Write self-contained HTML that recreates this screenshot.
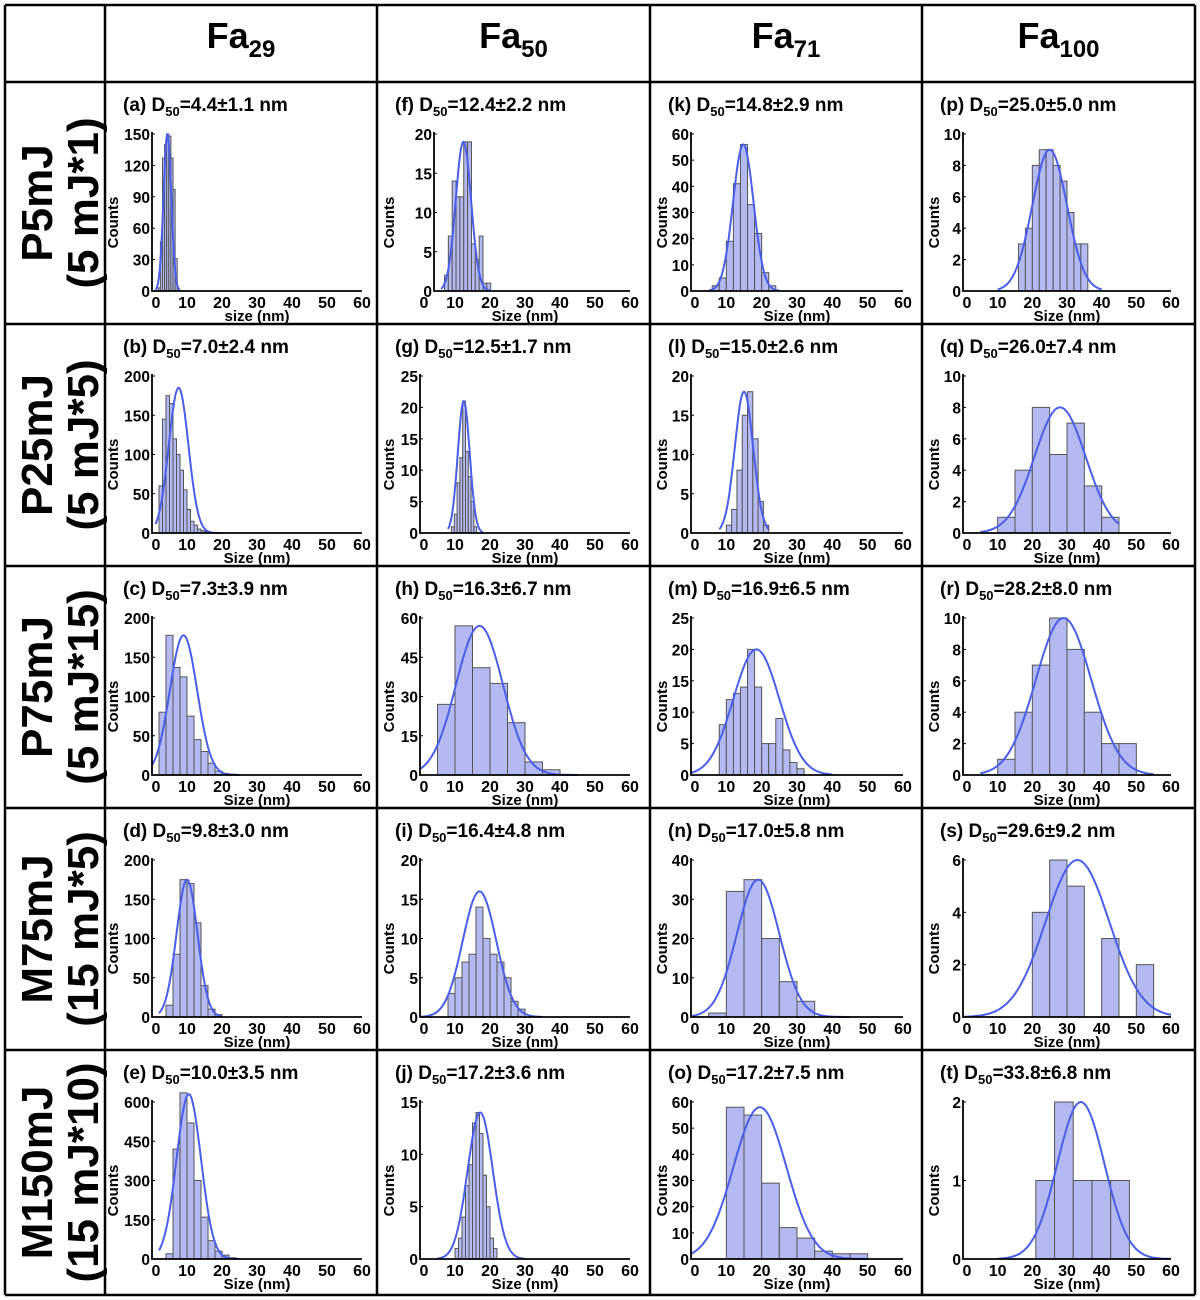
<!DOCTYPE html>
<html><head><meta charset="utf-8"><style>
html,body{margin:0;padding:0;background:#fff;}
svg{display:block;font-family:"Liberation Sans",Arial,sans-serif;font-weight:bold;}
</style></head><body>
<svg id="fig" width="1200" height="1300" viewBox="0 0 1200 1300" xmlns="http://www.w3.org/2000/svg"></svg>
<script>
// ---- Data ----
const colHeads = ["29","50","71","100"];
const rowMain = ["P5mJ","P25mJ","P75mJ","M75mJ","M150mJ"];
const rowSub = ["(5 mJ*1)","(5 mJ*5)","(5 mJ*15)","(15 mJ*5)","(15 mJ*10)"];
const letters = ["a","b","c","d","e","f","g","h","i","j","k","l","m","n","o","p","q","r","s","t"];
const titles = ["4.4±1.1","7.0±2.4","7.3±3.9","9.8±3.0","10.0±3.5","12.4±2.2","12.5±1.7","16.3±6.7","16.4±4.8","17.2±3.6","14.8±2.9","15.0±2.6","16.9±6.5","17.0±5.8","17.2±7.5","25.0±5.0","26.0±7.4","28.2±8.0","29.6±9.2","33.8±6.8"];
const yMax = [150,200,200,200,600,20,25,60,20,15,60,20,25,40,60,10,10,10,6,2];
const yStep = [30,50,50,50,150,5,5,15,5,5,10,5,5,10,10,2,2,2,2,1];
const binStart = [1.8,2,2,4,4,7,9,5,8,10,6,10,8,5,10,16,10,10,20,21];
const binWidth = [0.6,1,2,2,2,1.1,0.8,5,2,1,2,1.5,2,5,5,2,5,5,5,5.4];
const counts = [
 [3,47,127,140,150,148,127,97,31],
 [60,145,175,165,120,100,80,55,30,15,10,5,3,2,1],
 [80,178,137,125,75,45,30,15,5,2,1],
 [15,80,175,170,120,40,10,3],
 [20,420,635,520,300,160,70,30,15,5],
 [2,7,14,12,12,19,19,6,4,7,1,1],
 [1,3,8,12,21,13,9,5,1],
 [27,57,41,35,20,5,2],
 [3,5,7,8,14,10,8,7,5,2,1],
 [1,2,4,7,9,13,14,12,8,5,2,1],
 [2,5,19,41,56,33,22,7,2],
 [1,3,8,15,18,12,4,1],
 [8,12,13,14,20,14,5,5,9,4,2,1],
 [1,32,35,20,9,4],
 [58,55,29,12,8,3,2,2],
 [3,4,8,9,9,8,7,5,3,3],
 [1,4,8,5,7,3,1],
 [1,4,7,10,8,4,2,2],
 [4,6,5,0,3,0,2],
 [1,2,1,1,1]
];
const fitMu = [4.4,7.6,9,10,10.5,12.4,12.5,17,17,17.2,14.8,15,18.5,19,19.5,25,28,29,33,34];
const fitSigma = [1.1,2.8,3.9,3,3.5,2.2,1.7,6.7,4.8,3.6,2.9,2.6,6.5,6,7.5,5,7.4,8,9.2,6.8];
const fitAmp = [150,185,178,175,630,19,21,57,16,14,56,18,20,35,58,9,8,10,6,2];
const fitLo = [1,1,0,2,2,6,8,0,0,5,5,8,0,0,0,10,5,5,0,10];
const fitHi = [8,20,25,20,25,20,18,45,35,30,25,22,40,45,50,40,45,55,60,60];
const xMinVal = [0,0,0,0,0,4,0,0,0,0,0,0,0,0,0,0,0,0,0,0];
const xTicks = [0,10,20,30,40,50,60];

// ---- Layout ----
const NS="http://www.w3.org/2000/svg";
const svg=document.getElementById('fig');
const colX=[5,105,377,650,922,1195];
const rowY=[5,82,324,566,808,1050,1295];
const axL=[47,43,41,41], axR=[257,253,253,249];
function el(tag,attrs,parent){const e=document.createElementNS(NS,tag);for(const k in attrs)e.setAttribute(k,attrs[k]);(parent||svg).appendChild(e);return e;}

for(const x of colX){const l=el('line',{x1:x,y1:5,x2:x,y2:1295,stroke:'#000','stroke-width':2.5});

}
for(const y of rowY){const l=el('line',{x1:5,y1:y,x2:1195,y2:y,stroke:'#000','stroke-width':2.5});

}

colHeads.forEach((h,i)=>{
 const t=el('text',{x:(colX[i+1]+colX[i+2])/2,y:48,'text-anchor':'middle','font-size':36});
 
 
 t.innerHTML='Fa<tspan dy="9" font-size="24">'+h+'</tspan>';
});
rowMain.forEach((m,r)=>{
 const cy=(rowY[r+1]+rowY[r+2])/2;
 const g=el('g',{transform:`translate(0,${cy}) rotate(-90)`});
 
 
 const t1=el('text',{x:0,y:52,'text-anchor':'middle','font-size':44},g);t1.textContent=m;
 const t2=el('text',{x:0,y:98,'text-anchor':'middle','font-size':44},g);t2.textContent=rowSub[r];
});

for(let p=0;p<20;p++){
 const c=Math.floor(p/5), r=p%5;
 const cl=colX[c+1], rt=rowY[r+1];
 const x0=cl+axL[c], x1=cl+axR[c];
 const y0=rt+209, yT=rt+52;
 const xs=v=>x0+(v-0)/60*(x1-x0);
 const ys=v=>y0-v/yMax[p]*(y0-yT);
 const g=el('g',{});
 
 
 const tt=el('text',{x:cl+18,y:rt+29,'font-size':19},g);
 
 
 tt.innerHTML='('+letters[p]+') D<tspan dy="5" font-size="13">50</tspan><tspan dy="-5">='+titles[p]+' nm</tspan>';
 counts[p].forEach((v,i)=>{
  if(v<=0)return;
  const a=binStart[p]+i*binWidth[p], b=a+binWidth[p];
  const rc=el('rect',{x:xs(a),y:ys(v),width:xs(b)-xs(a),height:y0-ys(v),fill:'#b4b9f2',stroke:'#555','stroke-width':1},g);
  
  
 });
 let d='';
 for(let k=0;k<=100;k++){const v=fitLo[p]+(fitHi[p]-fitLo[p])*k/100;
  const yv=fitAmp[p]*Math.exp(-0.5*Math.pow((v-fitMu[p])/fitSigma[p],2));
  d+=(k?'L':'M')+xs(v).toFixed(1)+','+ys(yv).toFixed(1);}
 const pa=el('path',{d:d,fill:'none',stroke:'#4a5ee8','stroke-width':2},g);
 
 
 const xl=xs(xMinVal[p]);
 const ax=el('path',{d:`M${xl},${yT-2}L${xl},${y0}L${x1},${y0}`,fill:'none',stroke:'#000','stroke-width':1.8},g);
 
 
 for(let v=0;v<=yMax[p]+1e-9;v+=yStep[p]){
  const t=el('text',{x:xl-2,y:ys(v)+6,'text-anchor':'end','font-size':15.5},g);
  
  
  t.textContent=v;
  el('line',{x1:xl,y1:ys(v),x2:xl+3,y2:ys(v),stroke:'#000','stroke-width':1},g);
 }
 xTicks.forEach(v=>{
  const t=el('text',{x:xs(v)+(v===0?4:0),y:y0+17,'text-anchor':'middle','font-size':16},g);
  
  
  t.textContent=v;
 });
 const xt=el('text',{x:(x0+x1)/2,y:y0+30,'text-anchor':'middle','font-size':15},g);
 
 
 xt.textContent=(p===0?'size (nm)':'Size (nm)');
 const yt=el('text',{x:0,y:0,'text-anchor':'middle','font-size':15,transform:`translate(${cl+(c===0?13:17)},${(y0+yT)/2+10}) rotate(-90)`},g);
 
 
 yt.textContent='Counts';
}
</script>
</body></html>
